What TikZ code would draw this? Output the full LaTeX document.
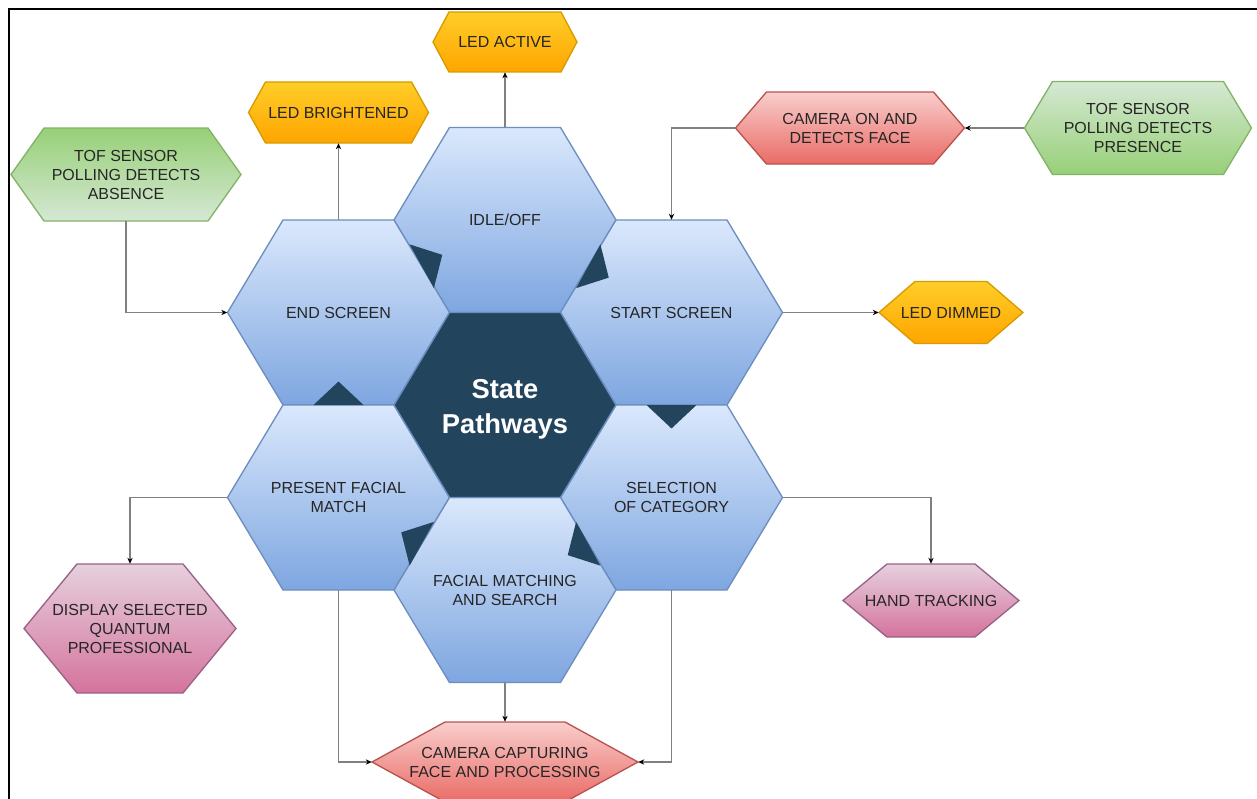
\documentclass[tikz,border=0pt]{standalone}
\usepackage{fontspec}
\setmainfont{Liberation Sans}
\usepackage{tikz}
\usetikzlibrary{arrows.meta, calc}

\definecolor{hubnavy}{HTML}{23445D}
\definecolor{blueA}{HTML}{DAE8FC}
\definecolor{blueB}{HTML}{7EA6E0}
\definecolor{blueline}{HTML}{6C8EBF}
\definecolor{orangeA}{HTML}{FFCD28}
\definecolor{orangeB}{HTML}{FFA500}
\definecolor{orangeline}{HTML}{D79B00}
\definecolor{greenA}{HTML}{D5E8D4}
\definecolor{greenB}{HTML}{97D077}
\definecolor{greenline}{HTML}{82B366}
\definecolor{redA}{HTML}{F8CECC}
\definecolor{redB}{HTML}{EA6B66}
\definecolor{redline}{HTML}{B85450}
\definecolor{pinkA}{HTML}{E6D0DE}
\definecolor{pinkB}{HTML}{D5739D}
\definecolor{pinkline}{HTML}{996185}

\tikzset{
  statehex/.style={draw=blueline, line width=1pt, top color=blueA, bottom color=blueB},
  hubhex/.style={draw=blueline, line width=1pt, fill=hubnavy},
  ledhex/.style={draw=orangeline, line width=1pt, top color=orangeA, bottom color=orangeB},
  sensorhex/.style={draw=greenline, line width=1pt, top color=greenA, bottom color=greenB},
  sensorhexup/.style={draw=greenline, line width=1pt, top color=greenB, bottom color=greenA},
  camhex/.style={draw=redline, line width=1pt, top color=redA, bottom color=redB},
  outhex/.style={draw=pinkline, line width=1pt, top color=pinkA, bottom color=pinkB},
  hextext/.style={inner sep=0pt, align=center, text=black!85, font=\fontsize{12}{14.25}\selectfont},
  flow/.style={draw=black!50, line width=1pt, -{Stealth[length=4.5pt, width=4pt, color=black]}},
  turn/.style={fill=hubnavy},
}

% flat topped hexagon with a named box of the same size over it
% [node options] name, x, y, half width, half height, slant, style, text
\newcommand{\hexnode}[9][]{%
  \path[#8] ({#3-#5},#4) -- ({#3-#5+#7},{#4-#6}) -- ({#3+#5-#7},{#4-#6})
    -- ({#3+#5},#4) -- ({#3+#5-#7},{#4+#6}) -- ({#3-#5+#7},{#4+#6}) -- cycle;
  \node[hextext, minimum width=1.5pt*#5, minimum height=1.5pt*#6, #1] (#2) at (#3,#4) {#9};
}

\begin{document}
\begin{tikzpicture}[x=0.75pt, y=-0.75pt]
    \useasboundingbox (0,0) rectangle (1257,799);
    \draw[line width=1.2pt] (9,805) -- (9,9) -- (1262,9);

    % Outer events
    \hexnode{ledactive}{505}{42}{72}{30}{16}{ledhex}{LED ACTIVE}
    \hexnode{ledbright}{338.5}{112.5}{90}{30.5}{17}{ledhex}{LED BRIGHTENED}
    \hexnode{leddim}{951}{312.5}{72}{31}{36}{ledhex}{LED DIMMED}
    \hexnode{tofabs}{126}{174.5}{115}{46.5}{33}{sensorhexup}{TOF SENSOR\\POLLING DETECTS\\ABSENCE}
    \hexnode{tofpres}{1138}{128}{113.5}{46.5}{28}{sensorhex}{TOF SENSOR\\POLLING DETECTS\\PRESENCE}
    \hexnode{camon}{850}{128}{114.5}{36}{31}{camhex}{CAMERA ON AND\\DETECTS FACE}
    \hexnode{camcap}{505}{762}{133}{40}{73}{camhex}{CAMERA CAPTURING\\FACE AND PROCESSING}
    \hexnode{handtrack}{931}{600.5}{88}{36.5}{44}{outhex}{HAND TRACKING}
    \hexnode{display}{130}{628.5}{106}{64.5}{53}{outhex}{DISPLAY SELECTED\\QUANTUM\\PROFESSIONAL}

    % States
    \hexnode{idle}{505}{220}{111}{92.5}{55.5}{statehex}{IDLE/OFF}
    \hexnode{endscr}{338.5}{312.5}{111}{92.5}{55.5}{statehex}{END SCREEN}
    \hexnode{startscr}{671.5}{312.5}{111}{92.5}{55.5}{statehex}{START SCREEN}
    \hexnode{present}{338.5}{497.5}{111}{92.5}{55.5}{statehex}{PRESENT FACIAL\\MATCH}
    \hexnode{select}{671.5}{497.5}{111}{92.5}{55.5}{statehex}{SELECTION\\OF CATEGORY}
    \hexnode{facial}{505}{590}{111}{92.5}{55.5}{statehex}{FACIAL MATCHING\\AND SEARCH}
    \hexnode[font=\bfseries\fontsize{20.5}{26}\selectfont, text=white, yshift=-3pt]{hub}{505}{405}{111}{92.5}{55.5}{hubhex}{State\\Pathways}

    % Cycle pointers on shared edges
    \foreach \from/\to in {endscr/idle, idle/startscr, startscr/select, select/facial, facial/present, present/endscr}
      \fill[turn] ($(\from)!0.5!(\to)!18.75pt!90:(\to)$) -- ($(\from)!0.5!(\to)!18.75pt!-90:(\to)$)
        -- ($(\from)!0.5!(\to)!17.6pt!(\to)$) -- cycle;

    % Arrows
    \draw[flow] (idle) -- (ledactive);
    \draw[flow] (endscr) -- (ledbright);
    \draw[flow] (tofabs) |- (endscr);
    \draw[flow] (tofpres) -- (camon);
    \draw[flow] (camon) -| (startscr);
    \draw[flow] (startscr) -- (leddim);
    \draw[flow] (select) -| (handtrack);
    \draw[flow] (present) -| (display);
    \draw[flow] (present) |- (camcap);
    \draw[flow] (facial) -- (camcap);
    \draw[flow] (select) |- (camcap);
\end{tikzpicture}
\end{document}
